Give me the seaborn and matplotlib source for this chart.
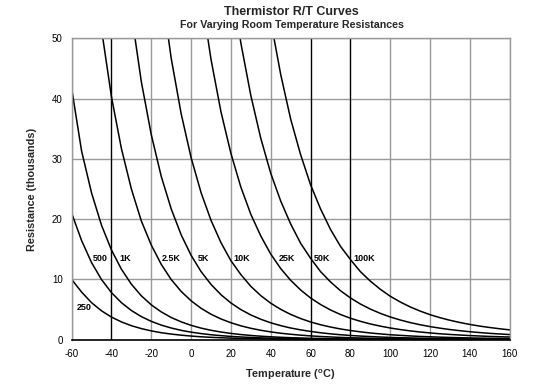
import pandas as pd
import matplotlib.pyplot as plt
import seaborn as sns

# ----------------------------
# Data: resistance in thousands of ohms
# ----------------------------

temps = [-60, -55, -50, -45, -40, -35, -30, -25, -20, -15, -10, -5, 0, 5, 10,
         15, 20, 25, 30, 35, 40, 45, 50, 55, 60, 65, 70, 75, 80, 85, 90, 95,
         100, 105, 110, 115, 120, 125, 130, 135, 140, 145, 150, 155, 160]

r_250 = [10.0, 7.90, 6.14, 4.79, 3.75, 2.95, 2.32, 1.84, 1.46, 1.16, 0.93, 0.75,
         0.60, 0.48, 0.39, 0.32, 0.26, 0.21, 0.18, 0.15, 0.12, 0.10, 0.083, 0.070,
         0.059, 0.049, 0.042, 0.035, 0.030, 0.026, 0.022, 0.019, 0.016, 0.014,
         0.012, 0.011, 0.0094, 0.0083, 0.0073, 0.0065, 0.0057, 0.0051, 0.0046,
         0.0041, 0.0037]
r_500 = [21.0, 16.45, 12.79, 9.98, 7.81, 6.14, 4.84, 3.83, 3.04, 2.42, 1.94, 1.55,
         1.25, 1.01, 0.82, 0.67, 0.54, 0.45, 0.37, 0.30, 0.25, 0.21, 0.17, 0.15,
         0.12, 0.10, 0.087, 0.074, 0.063, 0.054, 0.046, 0.040, 0.034, 0.030,
         0.026, 0.023, 0.020, 0.017, 0.015, 0.013, 0.012, 0.011, 0.0096, 0.0086,
         0.0077]
r_1k = [41.7, 31.3, 24.35, 18.99, 14.88, 11.69, 9.21, 7.28, 5.78, 4.61, 3.68, 2.96,
        2.38, 1.92, 1.56, 1.27, 1.04, 0.85, 0.70, 0.58, 0.48, 0.40, 0.33, 0.28,
        0.23, 0.20, 0.17, 0.14, 0.12, 0.10, 0.088, 0.075, 0.065, 0.056, 0.049,
        0.043, 0.037, 0.033, 0.029, 0.026, 0.023, 0.020, 0.018, 0.016, 0.015]
r_2k5 = [109.5, 84.9, 66.0, 51.5, 40.3, 31.7, 25.0, 19.7, 15.7, 12.5, 9.98, 8.01,
         6.45, 5.21, 4.22, 3.44, 2.81, 2.30, 1.89, 1.56, 1.29, 1.07, 0.90, 0.75,
         0.63, 0.53, 0.45, 0.38, 0.32, 0.28, 0.24, 0.20, 0.18, 0.15, 0.13, 0.12,
         0.10, 0.089, 0.079, 0.070, 0.062, 0.055, 0.049, 0.044, 0.040]
r_5k = [237.7, 184.2, 143.2, 111.7, 87.5, 68.7, 54.2, 42.8, 34.0, 27.1, 21.7, 17.4,
        14.0, 11.3, 9.17, 7.46, 6.09, 4.99, 4.10, 3.39, 2.80, 2.33, 1.94, 1.63,
        1.37, 1.15, 0.97, 0.82, 0.70, 0.60, 0.52, 0.44, 0.38, 0.33, 0.29, 0.25,
        0.22, 0.19, 0.17, 0.15, 0.13, 0.12, 0.11, 0.096, 0.086]
r_10k = [512.8, 397.4, 308.9, 241.0, 188.8, 148.3, 116.9, 92.4, 73.4, 58.5, 46.7,
         37.5, 30.2, 24.4, 19.8, 16.1, 13.1, 10.8, 8.85, 7.31, 6.05, 5.03, 4.19,
         3.51, 2.94, 2.48, 2.10, 1.78, 1.52, 1.30, 1.11, 0.96, 0.82, 0.72, 0.62,
         0.54, 0.48, 0.42, 0.37, 0.33, 0.29, 0.26, 0.23, 0.21, 0.19]
r_25k = [1205.6, 934.4, 726.3, 566.6, 443.8, 348.6, 274.8, 217.3, 172.5, 137.5,
         109.9, 88.2, 71.0, 57.4, 46.5, 37.8, 30.9, 25.3, 20.8, 17.2, 14.2, 11.8,
         9.85, 8.25, 6.92, 5.84, 4.93, 4.18, 3.56, 3.05, 2.61, 2.25, 1.94, 1.68,
         1.46, 1.28, 1.12, 0.98, 0.87, 0.77, 0.68, 0.61, 0.54, 0.49, 0.44]
r_50k = [2343, 1816, 1412, 1101, 862.5, 677.6, 534.1, 422.3, 335.3, 267.3, 213.6,
         171.4, 138.0, 111.5, 90.4, 73.6, 60.0, 49.2, 40.5, 33.4, 27.6, 23.0, 19.2,
         16.0, 13.5, 11.3, 9.59, 8.13, 6.93, 5.92, 5.08, 4.37, 3.77, 3.27, 2.84,
         2.48, 2.17, 1.91, 1.68, 1.49, 1.32, 1.18, 1.05, 0.95, 0.85]
r_100k = [4483, 3474, 2701, 2107, 1650, 1296, 1022, 807.8, 641.5, 511.4, 408.7,
          327.9, 264.0, 213.3, 172.9, 140.7, 114.8, 94.1, 77.4, 63.9, 52.9, 44.0,
          36.6, 30.7, 25.7, 21.7, 18.3, 15.5, 13.3, 11.3, 9.72, 8.37, 7.21, 6.26,
          5.44, 4.75, 4.15, 3.65, 3.22, 2.85, 2.53, 2.25, 2.02, 1.81, 1.63]

curve_names = ["250", "500", "1K", "2.5K", "5K", "10K", "25K", "50K", "100K"]
curve_values = [r_250, r_500, r_1k, r_2k5, r_5k, r_10k, r_25k, r_50k, r_100k]

x_ticks = [-60, -40, -20, 0, 20, 40, 60, 80, 100, 120, 140, 160]
y_ticks = [0, 10, 20, 30, 40, 50]
dark_lines = [-40, 60, 80]

# where each curve name is written (temperature, resistance)
label_pos = {"250": (-57.5, 5.3), "500": (-49.2, 13.4), "1K": (-36.1, 13.4),
             "2.5K": (-14.8, 13.4), "5K": (3.6, 13.4), "10K": (21.2, 13.4),
             "25K": (43.8, 13.4), "50K": (61.4, 13.4), "100K": (81.4, 13.4)}

df = pd.concat(
    [pd.DataFrame({"temp": temps, "res": vals, "curve": name})
     for name, vals in zip(curve_names, curve_values)],
    ignore_index=True,
)

# ----------------------------
# Style
# ----------------------------

sns.set_style("white")
plt.rcParams["font.family"] = ["Liberation Sans", "DejaVu Sans"]
plt.rcParams["axes.unicode_minus"] = False
plt.rcParams["mathtext.fontset"] = "custom"
plt.rcParams["mathtext.rm"] = "Liberation Sans:bold"

grid_col = "#999999"

fig = plt.figure(figsize=(5.51, 3.85), dpi=100)
ax = fig.add_axes([0.130, 0.1177, 0.795, 0.7829])

ax.grid(True, color=grid_col, lw=1.0)
ax.set_axisbelow(True)
for t in dark_lines:
    ax.axvline(t, color="black", lw=0.9, zorder=1.5)

sns.lineplot(data=df, x="temp", y="res", units="curve", estimator=None,
             sort=False, color="black", lw=1.1, ax=ax)

for name in curve_names:
    tx, ty = label_pos[name]
    ax.text(tx, ty, name, ha="left", va="center", fontsize=6.5,
            fontweight="bold", color="black")

ax.set_xlim(-60, 160)
ax.set_ylim(0, 50)
ax.set_xticks(x_ticks)
ax.set_yticks(y_ticks)
ax.tick_params(direction="out", length=4.5, width=0.9, color="black",
               labelsize=7, pad=2, labelcolor="black")

for side in ["top", "right", "left"]:
    ax.spines[side].set_color(grid_col)
    ax.spines[side].set_linewidth(1.0)
ax.spines["bottom"].set_color("black")
ax.spines["bottom"].set_linewidth(1.2)

ax.set_xlabel("Temperature ($^{\\mathrm{o}}$C)", fontsize=7.8, fontweight="bold")
ax.set_ylabel("Resistance (thousands)", fontsize=7.8, fontweight="bold")
ax.xaxis.set_label_coords(0.5, -0.094)
ax.yaxis.set_label_coords(-0.080, 0.5)

fig.text(0.529, 0.9696, "Thermistor R/T Curves", ha="center", va="center",
         fontsize=9, fontweight="bold")
fig.text(0.529, 0.935, "For Varying Room Temperature Resistances", ha="center",
         va="center", fontsize=7.7, fontweight="bold")

fig.savefig("out.png", dpi=100)
plt.close(fig)
